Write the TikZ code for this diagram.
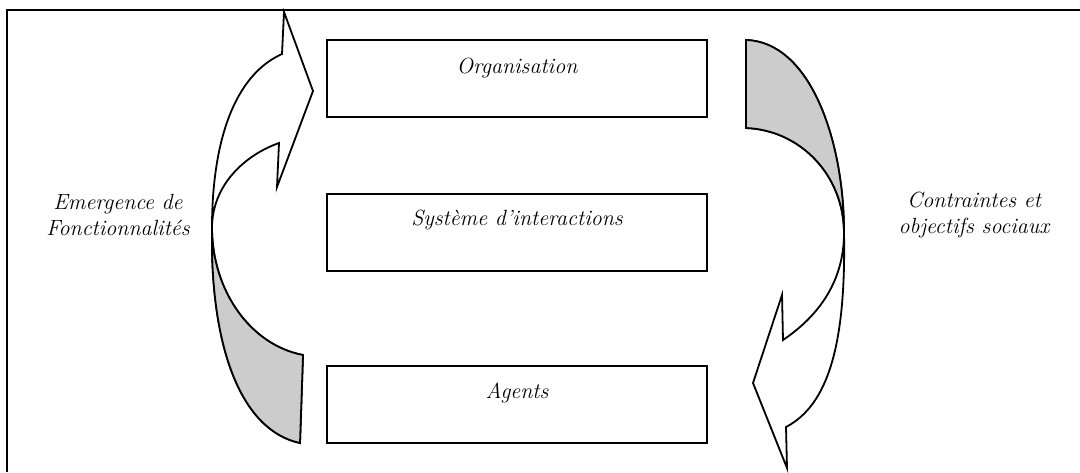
\documentclass[tikz,border=0pt]{standalone}
\usepackage{tikz}
\usetikzlibrary{positioning}
\definecolor{shade}{gray}{0.80}
\tikzset{x = 0.5pt, y = -0.5pt,
         box/.style = {draw, line width = 1pt, minimum width = 190pt,
                       minimum height = 38.5pt, inner sep = 0pt},
         boxtext/.style = {font = \fontsize{11}{13}\selectfont\itshape,
                           anchor = mid, inner sep = 0pt},
         sidetext/.style = {font = \fontsize{11}{13}\selectfont\itshape,
                            align = center, inner sep = 0pt},
         ribbon/.style = {draw, line width = 0.9pt, line join = miter},
         frame/.style = {draw, line width = 0.9pt}}

\begin{document}
\begin{tikzpicture}
        \useasboundingbox (0,0) rectangle (1080,472);
        \draw[frame] (1080,10) -- (7,10) -- (7,472);

        % the three levels
        \node[box] (org)   at (517,78.5) {};
        \node[box] (inter) at (517,232)  {};
        \node[box] (ag)    at (517,404)  {};
        \node[boxtext] (orgtext)   at ([yshift = -15pt]org.north)     {Organisation};
        \node[boxtext] (intertext) at ([yshift = -14.5pt]inter.north) {Syst\`eme d'interactions};
        \node[boxtext] (agtext)    at ([yshift = -15pt]ag.north)      {Agents};

        % side labels
        \node[sidetext] (emerg)  at (118,215) {Emergence de\\Fonctionnalit\'es};
        \node[sidetext] (contr)  at (974,215) {Contraintes et\\objectifs sociaux};

        % left curved arrow, going up
        \path[ribbon, fill = white]
              (284,12) -- (313,91) -- (277,187) -- (279,143)
              .. controls (245,155) and (212,185) .. (212,228)
              .. controls (212,290) and (250,345) .. (303,355)
              -- (300,443)
              .. controls (240,430) and (210,345) .. (212,228)
              .. controls (212,140) and (235,75) .. (282,54) -- cycle;
        \path[ribbon, fill = shade]
              (212,228) .. controls (212,290) and (250,345) .. (303,355)
              -- (300,443)
              .. controls (240,430) and (210,345) .. (212,228) -- cycle;

        % right curved arrow, going down
        \path[ribbon, fill = white]
              (746,40) .. controls (810,42) and (844,140) .. (844,233)
              .. controls (846,345) and (828,405) .. (786,427)
              -- (787,468) -- (753,383) -- (782,295) -- (783,340)
              .. controls (820,315) and (844,280) .. (844,233)
              .. controls (844,175) and (800,130) .. (746,128) -- cycle;
        \path[ribbon, fill = shade]
              (746,40) .. controls (810,42) and (844,140) .. (844,233)
              .. controls (844,175) and (800,130) .. (746,128) -- cycle;
    \end{tikzpicture}
\end{document}
